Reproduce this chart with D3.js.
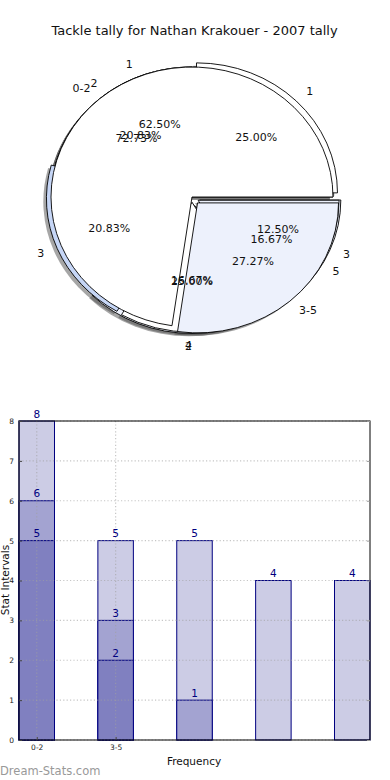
<!DOCTYPE html>
<html><head><meta charset="utf-8">
<script src="https://cdn.jsdelivr.net/npm/d3@7"></script>
<style>
html,body{margin:0;padding:0;background:#fff;}
svg{display:block;font-family:"DejaVu Sans",sans-serif;}
</style></head>
<body>
<svg id="chart" width="390" height="780"></svg>
<script>
// ---- data ----
const title = "Tackle tally for Nathan Krakouer - 2007 tally";
// pie layers (bottom to top)
const pie3Labels = ["1","2","3"];
const pie3Values = [5,2,1];
const pie2Labels = ["1","2","3","4","5"];
const pie2Values = [6,5,5,4,4];
const pie1Labels = ["0-2","3-5"];
const pie1Values = [8,3];
// bar chart
const categories = ["0-2","3-5","","",""];
const seriesLight = [8,5,5,4,4];
const seriesMid = [6,3,1,null,null];
const seriesDark = [5,2,null,null,null];
const yTicks = [0,1,2,3,4,5,6,7,8];

(function(){
const svg = d3.select("#chart");

svg.append("text").attr("x",194.5).attr("y",30).attr("text-anchor","middle")
  .attr("dominant-baseline","central").attr("font-size",13).attr("fill","#111").text(title);

// ---- pie ----
const cx = 192, cy = 197, rx = 141, ry = 130;
const pieGen = d3.pie().sort(null).value(d=>d).startAngle(Math.PI/2).endAngle(Math.PI/2 - 2*Math.PI);
const arcGen = d3.arc().innerRadius(0).outerRadius(1);
const layers = [
  {labels:pie3Labels, values:pie3Values, explode:[0,0.05,0.06], colors:["#ffffff","#edf1fc","#edf1fc"]},
  {labels:pie2Labels, values:pie2Values, explode:[0.045,0,0.035,0.04,0.05], colors:["#ffffff","#ffffff","#c6d6f6","#ffffff","#edf1fc"]},
  {labels:pie1Labels, values:pie1Values, explode:[0,0.06], colors:["#ffffff","#edf1fc"]}
];
const shadowG = svg.append("g");
const pieG = svg.append("g");
const textG = svg.append("g");
layers.forEach(L=>{
  const arcs = pieGen(L.values);
  const total = d3.sum(L.values);
  arcs.forEach((a,i)=>{
    const mid = (a.startAngle + a.endAngle)/2;
    const ux = Math.sin(mid), uy = -Math.cos(mid);
    const ex = L.explode[i]*ux, ey = L.explode[i]*uy;
    shadowG.append("g").attr("transform",`translate(${cx},${cy}) scale(${rx},${ry}) translate(${ex-0.022},${ey+0.022})`)
      .append("path").attr("d",arcGen(a)).attr("fill","#4d4d4d").attr("fill-opacity",0.5);
    pieG.append("g").attr("transform",`translate(${cx},${cy}) scale(${rx},${ry}) translate(${ex},${ey})`)
      .append("path").attr("d",arcGen(a)).attr("fill",L.colors[i]).attr("stroke","#000")
      .attr("stroke-width",0.9).attr("vector-effect","non-scaling-stroke").attr("stroke-linejoin","miter");
    const lx = ex + 1.1*ux, ly = ey + 1.1*uy;
    textG.append("text").attr("x",cx+rx*lx).attr("y",cy+ry*ly)
      .attr("text-anchor", lx > 0.001 ? "start" : "end").attr("dominant-baseline","central")
      .attr("font-size",11).attr("fill","#111").text(L.labels[i]);
    const px = ex + 0.6*ux, py = ey + 0.6*uy;
    textG.append("text").attr("x",cx+rx*px).attr("y",cy+ry*py)
      .attr("text-anchor","middle").attr("dominant-baseline","central")
      .attr("font-size",11).attr("fill","#111").text((100*a.value/total).toFixed(2)+"%");
  });
});

// ---- bar chart ----
const pLeft = 19, pRight = 370, pTop = 421, pBottom = 740;
const bw = 0.45;
const x = d3.scaleLinear().domain([0, categories.length-1+bw]).range([pLeft,pRight]);
const y = d3.scaleLinear().domain([0,8]).range([pBottom,pTop]);
const bars = svg.append("g");
const barSeries = [
  {vals:seriesLight, color:"#ccccE5"},
  {vals:seriesMid, color:"#a3a3d1"},
  {vals:seriesDark, color:"#8080c0"}
];
barSeries.forEach(s=>{
  s.vals.forEach((v,i)=>{
    if(v==null) return;
    bars.append("rect").attr("x",x(i)).attr("y",y(v)).attr("width",x(i+bw)-x(i)).attr("height",y(0)-y(v))
      .attr("fill",s.color).attr("stroke","#000080").attr("stroke-width",1);
  });
});
const grid = svg.append("g").attr("stroke","#a0a0a0").attr("stroke-opacity",0.6).attr("stroke-width",1.2).attr("stroke-dasharray","1.2,2.2");
yTicks.forEach(t=>{
  grid.append("line").attr("x1",pLeft).attr("x2",pRight).attr("y1",y(t)).attr("y2",y(t));
});
categories.forEach((c,i)=>{
  if(!c) return;
  grid.append("line").attr("x1",x(i+bw/2)).attr("x2",x(i+bw/2)).attr("y1",pTop).attr("y2",pBottom);
});
barSeries.forEach(s=>{
  s.vals.forEach((v,i)=>{
    if(v==null) return;
    svg.append("text").attr("x",x(i+bw/2)).attr("y",y(v)-3.5).attr("text-anchor","middle")
      .attr("font-size",10.5).attr("fill","#000080").text(v);
  });
});
svg.append("rect").attr("x",pLeft).attr("y",pTop).attr("width",pRight-pLeft).attr("height",pBottom-pTop)
  .attr("fill","none").attr("stroke","#000").attr("stroke-width",1);
const yAxis = svg.append("g").attr("transform",`translate(${pLeft},0)`)
  .call(d3.axisLeft(y).tickValues(yTicks).tickSize(-3).tickPadding(5).tickFormat(d3.format("d")));
yAxis.select(".domain").remove();
yAxis.selectAll("text").attr("font-size",7.5).attr("font-family","DejaVu Sans").attr("fill","#222");
yAxis.selectAll("line").attr("stroke","#444");
const rAxis = svg.append("g").attr("transform",`translate(${pRight},0)`)
  .call(d3.axisRight(y).tickValues(yTicks).tickSize(-3).tickFormat(""));
rAxis.select(".domain").remove();
rAxis.selectAll("line").attr("stroke","#999");
const xAxis = svg.append("g").attr("transform",`translate(0,${pBottom})`)
  .call(d3.axisBottom(x).tickValues([0,1].map(i=>i+bw/2)).tickSize(-3).tickPadding(5)
    .tickFormat((d,i)=>categories[i]));
xAxis.select(".domain").remove();
xAxis.selectAll("text").attr("font-size",7.5).attr("font-family","DejaVu Sans").attr("fill","#222");
xAxis.selectAll("line").attr("stroke","#444");

svg.append("text").attr("transform","translate(4.5,580) rotate(-90)").attr("text-anchor","middle")
  .attr("dominant-baseline","central").attr("font-size",10.5).attr("fill","#111").text("Stat Intervals");
svg.append("text").attr("x",194).attr("y",761).attr("text-anchor","middle").attr("dominant-baseline","central")
  .attr("font-size",10.5).attr("fill","#111").text("Frequency");
svg.append("text").attr("x",0).attr("y",771).attr("dominant-baseline","central")
  .attr("font-size",11.5).attr("fill","#999").text("Dream-Stats.com");
})();
</script>
</body></html>
